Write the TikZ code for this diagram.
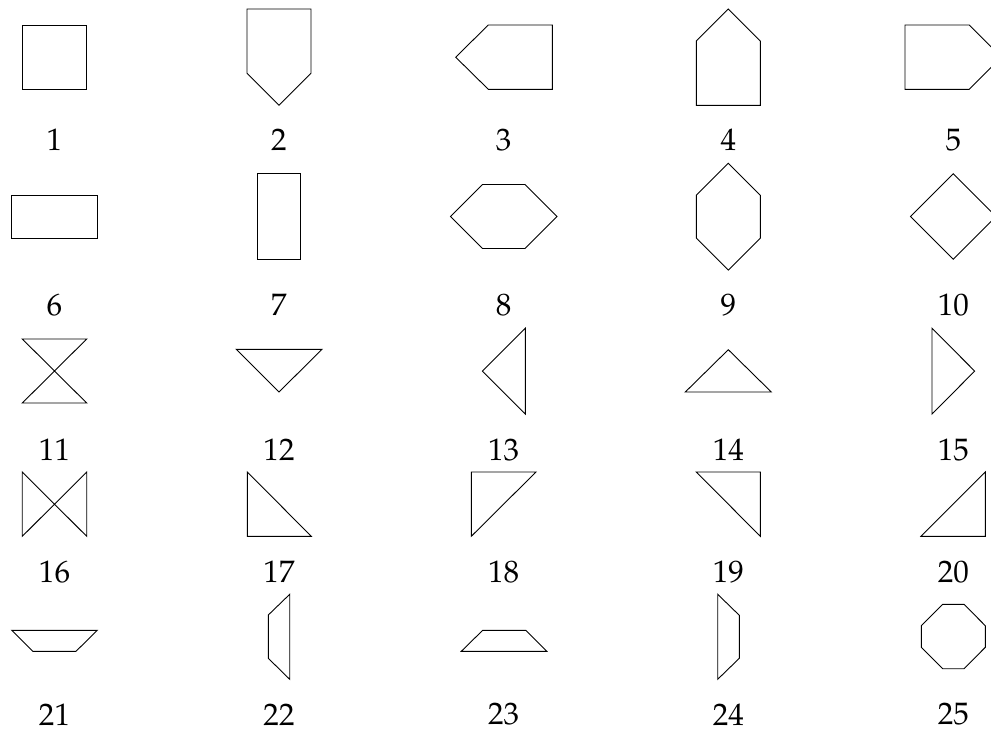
\documentclass[tikz,border=0pt]{standalone}
\usepackage[T1]{fontenc}
\usepackage{mathpazo}
\begin{document}
\begin{tikzpicture}[x=0.4446pt,y=-0.4446pt,
  shp/.style={draw=black,line width=0.4pt,line join=miter},
  lbl/.style={inner sep=0pt,anchor=center,font=\fontsize{13.8}{16}\selectfont}]
\useasboundingbox (0,0) rectangle (991,729);
\clip (0,0) rectangle (991,729);
% column centres: 54.5, 279, 503.7, 728.3, 953.3
% ---- row 1 ----
\draw[shp] (22.3,25) rectangle (86.7,89.3);
\draw[shp] (247,9) -- (311,9) -- (311,73.3) -- (279,105.3) -- (247,73.3) -- cycle;
\draw[shp] (552.3,25) -- (488.3,25) -- (455.7,57.2) -- (488.3,89.3) -- (552.3,89.3) -- cycle;
\draw[shp] (728.3,9) -- (760.3,41) -- (760.3,105.3) -- (696.3,105.3) -- (696.3,41) -- cycle;
\draw[shp] (905,25) -- (969.3,25) -- (1001.3,57.2) -- (969.3,89.3) -- (905,89.3) -- cycle;
\node[lbl] (l1) at (54.5,139.7) {1};
\node[lbl] (l2) at (279,139.7) {2};
\node[lbl] (l3) at (503.7,139.7) {3};
\node[lbl] (l4) at (728.3,139.7) {4};
\node[lbl] (l5) at (953.3,139.7) {5};
% ---- row 2 ----
\draw[shp] (11.7,195.3) rectangle (97.3,238);
\draw[shp] (257.7,173.7) rectangle (300.3,259.3);
\draw[shp] (450.4,216.5) -- (482.4,184.5) -- (525,184.5) -- (557,216.5) -- (525,248.5) -- (482.4,248.5) -- cycle;
\draw[shp] (728.3,163.3) -- (760.3,195.3) -- (760.3,238.1) -- (728.3,270.1) -- (696.3,238.1) -- (696.3,195.3) -- cycle;
\draw[shp] (953.3,173.8) -- (996,216.5) -- (953.3,259.2) -- (910.6,216.5) -- cycle;
\node[lbl] (l6) at (54.5,305) {6};
\node[lbl] (l7) at (279,305) {7};
\node[lbl] (l8) at (503.7,305) {8};
\node[lbl] (l9) at (728.3,305) {9};
\node[lbl] (l10) at (953.3,305) {10};
% ---- row 3 ----
\draw[shp] (22.3,339) -- (86.7,339) -- (22.3,403) -- (86.7,403) -- cycle;
\draw[shp] (236.3,349.3) -- (322,349.3) -- (279,392) -- cycle;
\draw[shp] (525.3,328.3) -- (525.3,414) -- (482.4,371.1) -- cycle;
\draw[shp] (728.3,349.7) -- (771.3,392) -- (685.3,392) -- cycle;
\draw[shp] (932,328.3) -- (932,414) -- (974.7,371.1) -- cycle;
\node[lbl] (l11) at (54.5,449.7) {11};
\node[lbl] (l12) at (279,449.7) {12};
\node[lbl] (l13) at (503.7,449.7) {13};
\node[lbl] (l14) at (728.3,449.7) {14};
\node[lbl] (l15) at (953.3,449.7) {15};
% ---- row 4 ----
\draw[shp] (22.3,472) -- (22.3,536.3) -- (86.7,472) -- (86.7,536.3) -- cycle;
\draw[shp] (247.3,472) -- (247.3,536.3) -- (311.3,536.3) -- cycle;
\draw[shp] (471.3,472) -- (536,472) -- (471.3,536.3) -- cycle;
\draw[shp] (696.3,472) -- (760.3,472) -- (760.3,536.3) -- cycle;
\draw[shp] (921,536.3) -- (985.3,536.3) -- (985.3,472) -- cycle;
\node[lbl] (l16) at (54.5,571.7) {16};
\node[lbl] (l17) at (279,571.7) {17};
\node[lbl] (l18) at (503.7,571.7) {18};
\node[lbl] (l19) at (728.3,571.7) {19};
\node[lbl] (l20) at (953.3,571.7) {20};
% ---- row 5 ----
\draw[shp] (11.7,630.3) -- (97.3,630.3) -- (76,651.3) -- (32.7,651.3) -- cycle;
\draw[shp] (289.7,594.3) -- (289.7,679.3) -- (268.3,658.3) -- (268.3,615) -- cycle;
\draw[shp] (482.7,630.3) -- (525.7,630.3) -- (546.7,651.3) -- (461.3,651.3) -- cycle;
\draw[shp] (717.7,594.3) -- (739.3,615.3) -- (739.3,658.3) -- (717.7,679.3) -- cycle;
\draw[shp] (942.6,604.3) -- (964,604.3) -- (985.3,625.7) -- (985.3,647.3) -- (964,668.7) -- (942.6,668.7) -- (921.3,647.3) -- (921.3,625.7) -- cycle;
\node[lbl] (l21) at (54.5,714.3) {21};
\node[lbl] (l22) at (279,714.3) {22};
\node[lbl] (l23) at (503.7,714.3) {23};
\node[lbl] (l24) at (728.3,714.3) {24};
\node[lbl] (l25) at (953.3,714.3) {25};
\end{tikzpicture}
\end{document}
